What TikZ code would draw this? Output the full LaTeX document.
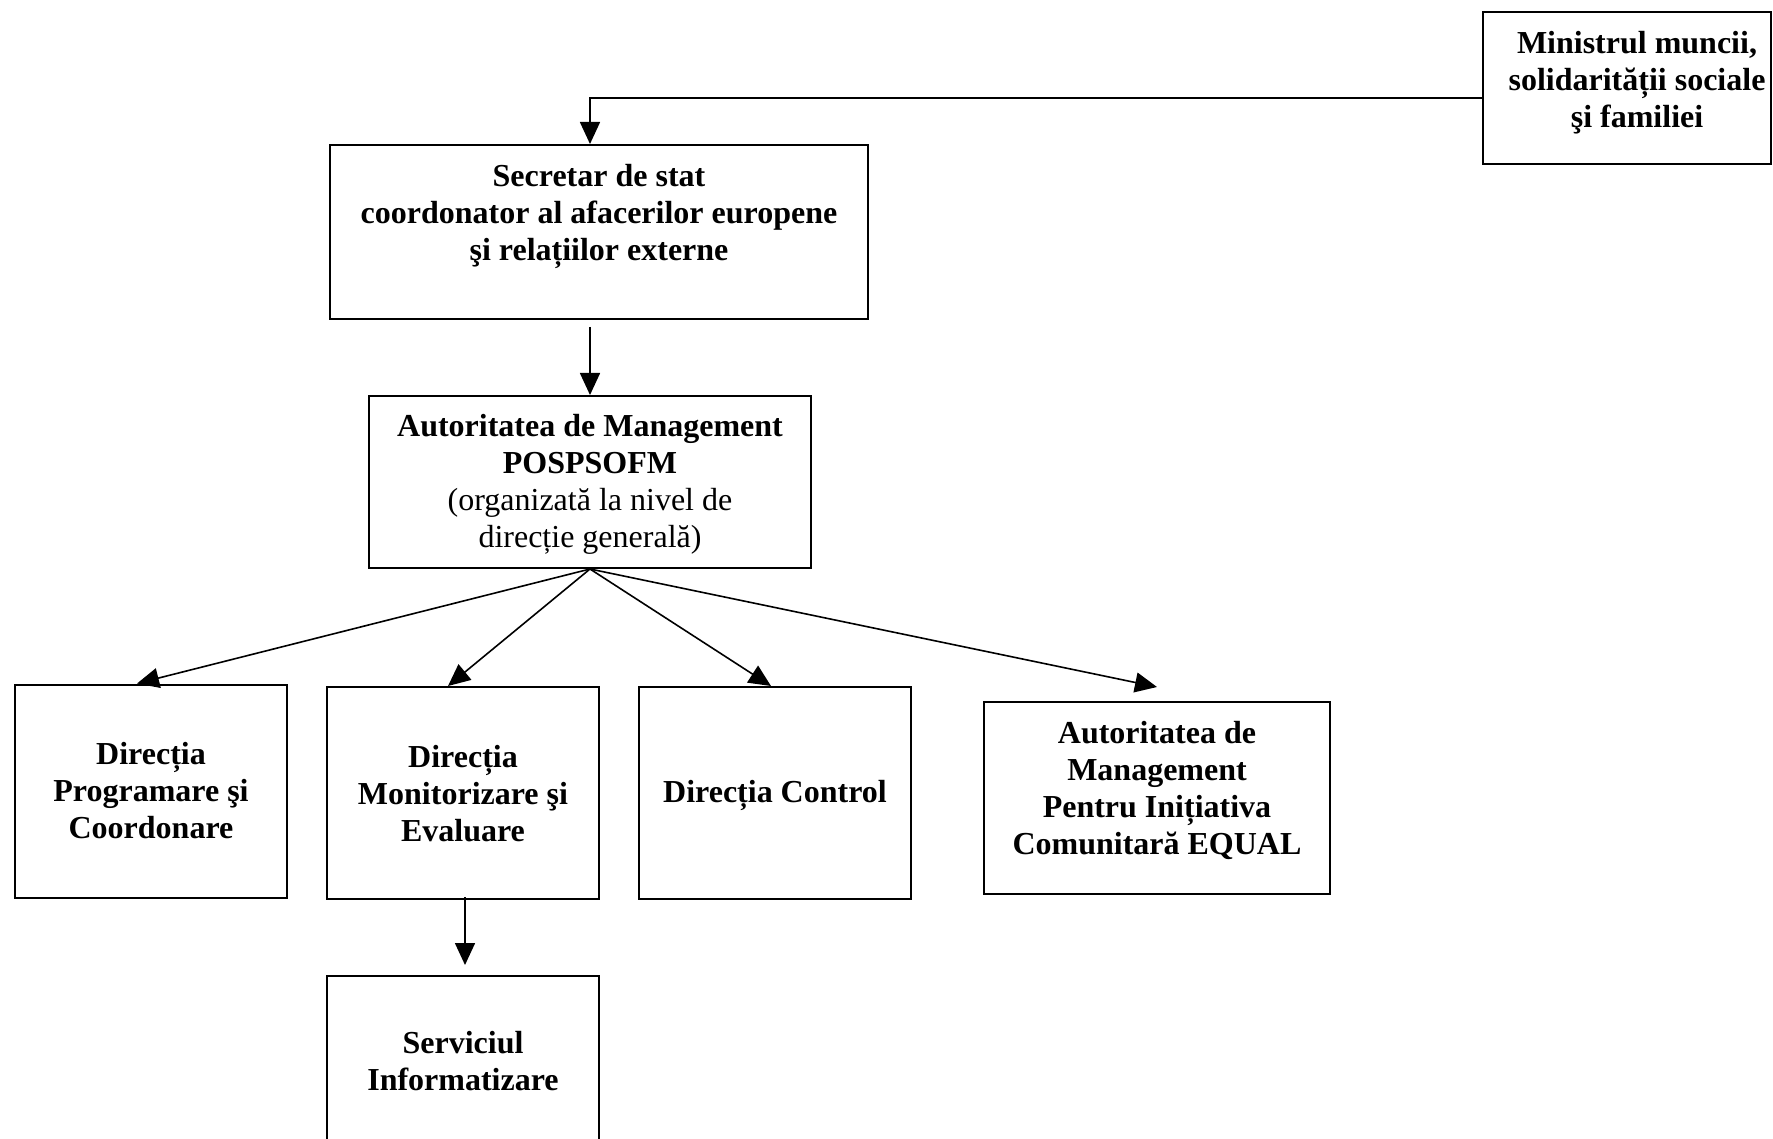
\documentclass[tikz,border=0pt]{standalone}
\usepackage{fontspec}
\setmainfont{Liberation Serif}
\usetikzlibrary{arrows.meta}
\tikzset{orgbox/.style={draw,line width=2pt,inner sep=0pt},
orgtext/.style={align=center,font=\fontsize{32}{37}\selectfont\bfseries},
orglink/.style={line width=1.6pt,-{Triangle[length=22pt,width=20pt]}}}

\begin{document}
\begin{tikzpicture}[x=1pt,y=-1pt]
\useasboundingbox (0,0) rectangle (1773,1139);
% boxes
\node[orgbox,minimum width=288pt,minimum height=152pt] (mini) at (1627,88) {};
\node[orgbox,minimum width=538pt,minimum height=174pt] (secr) at (599,232) {};
\node[orgbox,minimum width=442pt,minimum height=172pt] (amp) at (590,482) {};
\node[orgbox,minimum width=272pt,minimum height=213pt] (dprog) at (151,791) {};
\node[orgbox,minimum width=272pt,minimum height=212pt] (dmon) at (463,793) {};
\node[orgbox,minimum width=272pt,minimum height=212pt] (dctrl) at (775,793) {};
\node[orgbox,minimum width=346pt,minimum height=192pt] (equal) at (1157,798) {};
\node[orgbox,minimum width=272pt,minimum height=174pt] (serv) at (463,1063) {};
% texts
\node[orgtext] (minitext) at ([xshift=10pt,yshift=5pt]mini.center) {Ministrul muncii,\\solidarității sociale\\şi familiei};
\node[orgtext] (secrtext) at ([yshift=16pt]secr.center) {Secretar de stat\\coordonator al afacerilor europene\\şi relațiilor externe};
\node[orgtext] (amptext) at ([yshift=-2pt]amp.center) {Autoritatea de Management\\POSPSOFM\\{\mdseries(organizată la nivel de}\\{\mdseries direcție generală)}};
\node[orgtext] (dprogtext) at (dprog.center) {Direcția\\Programare şi\\Coordonare};
\node[orgtext] (dmontext) at ([yshift=-1pt]dmon.center) {Direcția\\Monitorizare şi\\Evaluare};
\node[orgtext] (dctrltext) at ([yshift=-2pt]dctrl.center) {Direcția Control};
\node[orgtext] (equaltext) at ([yshift=8pt]equal.center) {Autoritatea de\\Management\\Pentru Inițiativa\\Comunitară EQUAL};
\node[orgtext] (servtext) at ([yshift=2pt]serv.center) {Serviciul\\Informatizare};
% links
\coordinate (secrout) at (amp.north |- secr.south);
\draw[orglink] ([yshift=-10pt]mini.west) -| (amp.north |- secr.north);
\draw[orglink] ([yshift=-7pt]secrout) -- (amp.north);
\draw[orglink] (amp.south) -- ([xshift=-14pt]dprog.north);
\draw[orglink] (amp.south) -- ([xshift=-15pt]dmon.north);
\draw[orglink] (amp.south) -- ([xshift=-4pt]dctrl.north);
\draw[orglink] (amp.south) -- ([yshift=14pt]equal.north);
\draw[orglink] ([xshift=2pt,yshift=3pt]dmon.south) -- ([xshift=2pt,yshift=10pt]serv.north);
\end{tikzpicture}
\end{document}
